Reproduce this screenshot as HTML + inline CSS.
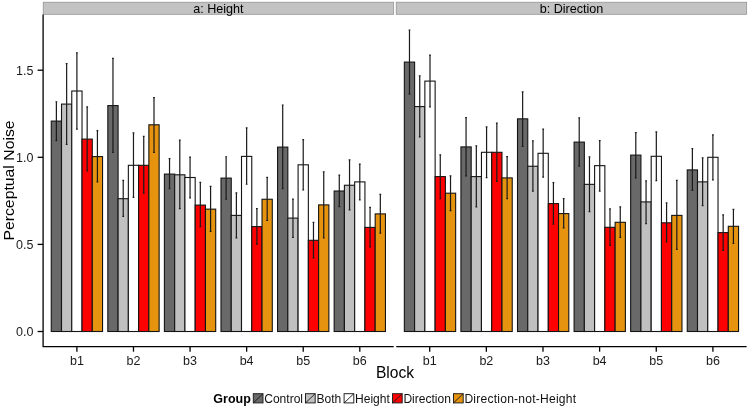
<!DOCTYPE html>
<html><head><meta charset="utf-8"><title>Perceptual Noise by Block</title>
<style>
html,body{margin:0;padding:0;background:#fff}
body{width:750px;height:409px;overflow:hidden}
svg{display:block;filter:blur(0.4px)}
.t{font-family:"Liberation Sans",Arial,Helvetica,sans-serif}
.bars rect{stroke:#141414;stroke-width:1.1}
.e{stroke:#1a1a1a;stroke-width:1.2;fill:none}
</style></head><body>
<svg width="750" height="409" viewBox="0 0 750 409">
<rect width="750" height="409" fill="#fff"/>
<rect x="43.2" y="2.2" width="350.5" height="12.1" fill="#c3c3c3" stroke="#8c8c8c" stroke-width="0.7"/>
<rect x="396.2" y="2.2" width="350.5" height="12.1" fill="#c3c3c3" stroke="#8c8c8c" stroke-width="0.7"/>
<text class="t" x="218.4" y="13" text-anchor="middle" font-size="12.6">a: Height</text>
<text class="t" x="571.5" y="13" text-anchor="middle" font-size="12.6">b: Direction</text>
<g class="bars">
<rect x="51.25" y="121.10" width="10.26" height="210.40" fill="#696969"/>
<rect x="61.51" y="104.10" width="10.26" height="227.40" fill="#c0c0c0"/>
<rect x="71.77" y="91.00" width="10.26" height="240.50" fill="#ffffff"/>
<rect x="82.03" y="139.10" width="10.26" height="192.40" fill="#ff0000"/>
<rect x="92.29" y="156.60" width="10.26" height="174.90" fill="#e6940f"/>
<path class="e" d="M56.38 101.75V140.60M55.48 101.75h1.8M55.48 140.60h1.8"/>
<path class="e" d="M66.64 63.70V144.40M65.74 63.70h1.8M65.74 144.40h1.8"/>
<path class="e" d="M76.90 52.90V129.20M76.00 52.90h1.8M76.00 129.20h1.8"/>
<path class="e" d="M87.16 106.90V171.00M86.26 106.90h1.8M86.26 171.00h1.8"/>
<path class="e" d="M97.42 130.60V181.80M96.52 130.60h1.8M96.52 181.80h1.8"/>
<rect x="107.83" y="105.60" width="10.26" height="225.90" fill="#696969"/>
<rect x="118.09" y="198.70" width="10.26" height="132.80" fill="#c0c0c0"/>
<rect x="128.35" y="165.30" width="10.26" height="166.20" fill="#ffffff"/>
<rect x="138.61" y="165.30" width="10.26" height="166.20" fill="#ff0000"/>
<rect x="148.87" y="124.80" width="10.26" height="206.70" fill="#e6940f"/>
<path class="e" d="M112.96 58.40V152.30M112.06 58.40h1.8M112.06 152.30h1.8"/>
<path class="e" d="M123.22 180.35V216.40M122.32 180.35h1.8M122.32 216.40h1.8"/>
<path class="e" d="M133.48 132.90V197.40M132.58 132.90h1.8M132.58 197.40h1.8"/>
<path class="e" d="M143.74 136.40V193.20M142.84 136.40h1.8M142.84 193.20h1.8"/>
<path class="e" d="M154.00 97.55V152.30M153.10 97.55h1.8M153.10 152.30h1.8"/>
<rect x="164.41" y="174.10" width="10.26" height="157.40" fill="#696969"/>
<rect x="174.67" y="174.80" width="10.26" height="156.70" fill="#c0c0c0"/>
<rect x="184.93" y="177.50" width="10.26" height="154.00" fill="#ffffff"/>
<rect x="195.19" y="205.10" width="10.26" height="126.40" fill="#ff0000"/>
<rect x="205.45" y="209.15" width="10.26" height="122.35" fill="#e6940f"/>
<path class="e" d="M169.54 158.60V188.70M168.64 158.60h1.8M168.64 188.70h1.8"/>
<path class="e" d="M179.80 140.10V208.60M178.90 140.10h1.8M178.90 208.60h1.8"/>
<path class="e" d="M190.06 157.10V197.90M189.16 157.10h1.8M189.16 197.90h1.8"/>
<path class="e" d="M200.32 182.45V226.60M199.42 182.45h1.8M199.42 226.60h1.8"/>
<path class="e" d="M210.58 186.35V231.40M209.68 186.35h1.8M209.68 231.40h1.8"/>
<rect x="220.99" y="178.10" width="10.26" height="153.40" fill="#696969"/>
<rect x="231.25" y="215.40" width="10.26" height="116.10" fill="#c0c0c0"/>
<rect x="241.51" y="156.40" width="10.26" height="175.10" fill="#ffffff"/>
<rect x="251.77" y="226.60" width="10.26" height="104.90" fill="#ff0000"/>
<rect x="262.03" y="199.25" width="10.26" height="132.25" fill="#e6940f"/>
<path class="e" d="M226.12 156.75V199.20M225.22 156.75h1.8M225.22 199.20h1.8"/>
<path class="e" d="M236.38 192.85V237.80M235.48 192.85h1.8M235.48 237.80h1.8"/>
<path class="e" d="M246.64 127.90V184.25M245.74 127.90h1.8M245.74 184.25h1.8"/>
<path class="e" d="M256.90 208.70V244.10M256.00 208.70h1.8M256.00 244.10h1.8"/>
<path class="e" d="M267.16 177.40V220.40M266.26 177.40h1.8M266.26 220.40h1.8"/>
<rect x="277.57" y="147.10" width="10.26" height="184.40" fill="#696969"/>
<rect x="287.83" y="218.10" width="10.26" height="113.40" fill="#c0c0c0"/>
<rect x="298.09" y="164.80" width="10.26" height="166.70" fill="#ffffff"/>
<rect x="308.35" y="240.30" width="10.26" height="91.20" fill="#ff0000"/>
<rect x="318.61" y="204.90" width="10.26" height="126.60" fill="#e6940f"/>
<path class="e" d="M282.70 105.00V188.60M281.80 105.00h1.8M281.80 188.60h1.8"/>
<path class="e" d="M292.96 199.10V237.30M292.06 199.10h1.8M292.06 237.30h1.8"/>
<path class="e" d="M303.22 139.70V189.90M302.32 139.70h1.8M302.32 189.90h1.8"/>
<path class="e" d="M313.48 222.40V257.80M312.58 222.40h1.8M312.58 257.80h1.8"/>
<path class="e" d="M323.74 171.90V237.80M322.84 171.90h1.8M322.84 237.80h1.8"/>
<rect x="334.15" y="191.00" width="10.26" height="140.50" fill="#696969"/>
<rect x="344.41" y="185.25" width="10.26" height="146.25" fill="#c0c0c0"/>
<rect x="354.67" y="181.90" width="10.26" height="149.60" fill="#ffffff"/>
<rect x="364.93" y="227.40" width="10.26" height="104.10" fill="#ff0000"/>
<rect x="375.19" y="213.90" width="10.26" height="117.60" fill="#e6940f"/>
<path class="e" d="M339.28 175.05V206.70M338.38 175.05h1.8M338.38 206.70h1.8"/>
<path class="e" d="M349.54 159.90V209.90M348.64 159.90h1.8M348.64 209.90h1.8"/>
<path class="e" d="M359.80 164.10V199.85M358.90 164.10h1.8M358.90 199.85h1.8"/>
<path class="e" d="M370.06 207.40V246.80M369.16 207.40h1.8M369.16 246.80h1.8"/>
<path class="e" d="M380.32 194.45V233.10M379.42 194.45h1.8M379.42 233.10h1.8"/>
<rect x="404.35" y="62.10" width="10.26" height="269.40" fill="#696969"/>
<rect x="414.61" y="106.60" width="10.26" height="224.90" fill="#c0c0c0"/>
<rect x="424.87" y="81.10" width="10.26" height="250.40" fill="#ffffff"/>
<rect x="435.13" y="176.60" width="10.26" height="154.90" fill="#ff0000"/>
<rect x="445.39" y="193.20" width="10.26" height="138.30" fill="#e6940f"/>
<path class="e" d="M409.48 30.00V94.10M408.58 30.00h1.8M408.58 94.10h1.8"/>
<path class="e" d="M419.74 75.90V136.90M418.84 75.90h1.8M418.84 136.90h1.8"/>
<path class="e" d="M430.00 55.20V106.90M429.10 55.20h1.8M429.10 106.90h1.8"/>
<path class="e" d="M440.26 154.80V198.70M439.36 154.80h1.8M439.36 198.70h1.8"/>
<path class="e" d="M450.52 175.85V210.60M449.62 175.85h1.8M449.62 210.60h1.8"/>
<rect x="460.93" y="146.90" width="10.26" height="184.60" fill="#696969"/>
<rect x="471.19" y="176.60" width="10.26" height="154.90" fill="#c0c0c0"/>
<rect x="481.45" y="152.30" width="10.26" height="179.20" fill="#ffffff"/>
<rect x="491.71" y="152.30" width="10.26" height="179.20" fill="#ff0000"/>
<rect x="501.97" y="177.90" width="10.26" height="153.60" fill="#e6940f"/>
<path class="e" d="M466.06 117.60V175.85M465.16 117.60h1.8M465.16 175.85h1.8"/>
<path class="e" d="M476.32 145.90V206.90M475.42 145.90h1.8M475.42 206.90h1.8"/>
<path class="e" d="M486.58 126.90V177.65M485.68 126.90h1.8M485.68 177.65h1.8"/>
<path class="e" d="M496.84 123.20V181.35M495.94 123.20h1.8M495.94 181.35h1.8"/>
<path class="e" d="M507.10 156.60V198.70M506.20 156.60h1.8M506.20 198.70h1.8"/>
<rect x="517.51" y="118.85" width="10.26" height="212.65" fill="#696969"/>
<rect x="527.77" y="166.25" width="10.26" height="165.25" fill="#c0c0c0"/>
<rect x="538.03" y="153.30" width="10.26" height="178.20" fill="#ffffff"/>
<rect x="548.29" y="203.60" width="10.26" height="127.90" fill="#ff0000"/>
<rect x="558.55" y="213.60" width="10.26" height="117.90" fill="#e6940f"/>
<path class="e" d="M522.64 91.90V146.40M521.74 91.90h1.8M521.74 146.40h1.8"/>
<path class="e" d="M532.90 140.90V191.20M532.00 140.90h1.8M532.00 191.20h1.8"/>
<path class="e" d="M543.16 129.20V177.15M542.26 129.20h1.8M542.26 177.15h1.8"/>
<path class="e" d="M553.42 182.60V224.10M552.52 182.60h1.8M552.52 224.10h1.8"/>
<path class="e" d="M563.68 198.70V227.80M562.78 198.70h1.8M562.78 227.80h1.8"/>
<rect x="574.09" y="142.10" width="10.26" height="189.40" fill="#696969"/>
<rect x="584.35" y="184.35" width="10.26" height="147.15" fill="#c0c0c0"/>
<rect x="594.61" y="165.65" width="10.26" height="165.85" fill="#ffffff"/>
<rect x="604.87" y="227.30" width="10.26" height="104.20" fill="#ff0000"/>
<rect x="615.13" y="222.30" width="10.26" height="109.20" fill="#e6940f"/>
<path class="e" d="M579.22 117.90V166.15M578.32 117.90h1.8M578.32 166.15h1.8"/>
<path class="e" d="M589.48 156.80V211.60M588.58 156.80h1.8M588.58 211.60h1.8"/>
<path class="e" d="M599.74 140.60V191.10M598.84 140.60h1.8M598.84 191.10h1.8"/>
<path class="e" d="M610.00 208.90V245.30M609.10 208.90h1.8M609.10 245.30h1.8"/>
<path class="e" d="M620.26 206.90V237.30M619.36 206.90h1.8M619.36 237.30h1.8"/>
<rect x="630.67" y="155.10" width="10.26" height="176.40" fill="#696969"/>
<rect x="640.93" y="201.90" width="10.26" height="129.60" fill="#c0c0c0"/>
<rect x="651.19" y="156.30" width="10.26" height="175.20" fill="#ffffff"/>
<rect x="661.45" y="222.80" width="10.26" height="108.70" fill="#ff0000"/>
<rect x="671.71" y="215.40" width="10.26" height="116.10" fill="#e6940f"/>
<path class="e" d="M635.80 132.60V177.90M634.90 132.60h1.8M634.90 177.90h1.8"/>
<path class="e" d="M646.06 180.85V223.60M645.16 180.85h1.8M645.16 223.60h1.8"/>
<path class="e" d="M656.32 131.90V180.60M655.42 131.90h1.8M655.42 180.60h1.8"/>
<path class="e" d="M666.58 202.90V241.80M665.68 202.90h1.8M665.68 241.80h1.8"/>
<path class="e" d="M676.84 180.45V249.30M675.94 180.45h1.8M675.94 249.30h1.8"/>
<rect x="687.25" y="169.90" width="10.26" height="161.60" fill="#696969"/>
<rect x="697.51" y="181.85" width="10.26" height="149.65" fill="#c0c0c0"/>
<rect x="707.77" y="157.30" width="10.26" height="174.20" fill="#ffffff"/>
<rect x="718.03" y="232.60" width="10.26" height="98.90" fill="#ff0000"/>
<rect x="728.29" y="226.30" width="10.26" height="105.20" fill="#e6940f"/>
<path class="e" d="M692.38 148.60V190.45M691.48 148.60h1.8M691.48 190.45h1.8"/>
<path class="e" d="M702.64 157.80V205.60M701.74 157.80h1.8M701.74 205.60h1.8"/>
<path class="e" d="M712.90 134.90V179.90M712.00 134.90h1.8M712.00 179.90h1.8"/>
<path class="e" d="M723.16 214.90V250.30M722.26 214.90h1.8M722.26 250.30h1.8"/>
<path class="e" d="M733.42 209.40V243.50M732.52 209.40h1.8M732.52 243.50h1.8"/>
</g>
<g stroke="#000" stroke-width="1.3" fill="none">
<path d="M43.1 14.4V346.7H393.7"/>
<path d="M396.2 346.7H746.6"/>
<path d="M37.6 331.5H43.1"/>
<path d="M37.6 244.4H43.1"/>
<path d="M37.6 157.3H43.1"/>
<path d="M37.6 70.2H43.1"/>
<path d="M76.90 346.7V351.7"/>
<path d="M133.48 346.7V351.7"/>
<path d="M190.06 346.7V351.7"/>
<path d="M246.64 346.7V351.7"/>
<path d="M303.22 346.7V351.7"/>
<path d="M359.80 346.7V351.7"/>
<path d="M429.70 346.7V351.7"/>
<path d="M486.34 346.7V351.7"/>
<path d="M542.98 346.7V351.7"/>
<path d="M599.62 346.7V351.7"/>
<path d="M656.26 346.7V351.7"/>
<path d="M712.90 346.7V351.7"/>
</g>
<text class="t" x="33.4" y="335.9" text-anchor="end" font-size="12.5" fill="#1a1a1a">0.0</text>
<text class="t" x="33.4" y="248.8" text-anchor="end" font-size="12.5" fill="#1a1a1a">0.5</text>
<text class="t" x="33.4" y="161.7" text-anchor="end" font-size="12.5" fill="#1a1a1a">1.0</text>
<text class="t" x="33.4" y="74.6" text-anchor="end" font-size="12.5" fill="#1a1a1a">1.5</text>
<text class="t" x="76.90" y="364.9" text-anchor="middle" font-size="12.5" fill="#1a1a1a">b1</text>
<text class="t" x="133.48" y="364.9" text-anchor="middle" font-size="12.5" fill="#1a1a1a">b2</text>
<text class="t" x="190.06" y="364.9" text-anchor="middle" font-size="12.5" fill="#1a1a1a">b3</text>
<text class="t" x="246.64" y="364.9" text-anchor="middle" font-size="12.5" fill="#1a1a1a">b4</text>
<text class="t" x="303.22" y="364.9" text-anchor="middle" font-size="12.5" fill="#1a1a1a">b5</text>
<text class="t" x="359.80" y="364.9" text-anchor="middle" font-size="12.5" fill="#1a1a1a">b6</text>
<text class="t" x="429.70" y="364.9" text-anchor="middle" font-size="12.5" fill="#1a1a1a">b1</text>
<text class="t" x="486.34" y="364.9" text-anchor="middle" font-size="12.5" fill="#1a1a1a">b2</text>
<text class="t" x="542.98" y="364.9" text-anchor="middle" font-size="12.5" fill="#1a1a1a">b3</text>
<text class="t" x="599.62" y="364.9" text-anchor="middle" font-size="12.5" fill="#1a1a1a">b4</text>
<text class="t" x="656.26" y="364.9" text-anchor="middle" font-size="12.5" fill="#1a1a1a">b5</text>
<text class="t" x="712.90" y="364.9" text-anchor="middle" font-size="12.5" fill="#1a1a1a">b6</text>
<text class="t" x="395" y="378.4" text-anchor="middle" font-size="15.6">Block</text>
<text class="t" transform="translate(13.5 180.5) rotate(-90) scale(1 0.96)" text-anchor="middle" font-size="15.8">Perceptual Noise</text>
<text class="t" x="213.3" y="402.5" font-size="12.5" font-weight="bold">Group</text>
<rect x="253.3" y="393.7" width="9.7" height="9.2" fill="#696969" stroke="#1c1c1c" stroke-width="0.95"/>
<path d="M253.3 402.9L263.0 393.7" stroke="#1c1c1c" stroke-width="0.95"/>
<text class="t" x="264.2" y="402.5" font-size="12.05" fill="#111">Control</text>
<rect x="305.5" y="393.7" width="9.7" height="9.2" fill="#c0c0c0" stroke="#1c1c1c" stroke-width="0.95"/>
<path d="M305.5 402.9L315.2 393.7" stroke="#1c1c1c" stroke-width="0.95"/>
<text class="t" x="316.4" y="402.5" font-size="12.05" fill="#111">Both</text>
<rect x="344.1" y="393.7" width="9.7" height="9.2" fill="#ffffff" stroke="#1c1c1c" stroke-width="0.95"/>
<path d="M344.1 402.9L353.8 393.7" stroke="#1c1c1c" stroke-width="0.95"/>
<text class="t" x="355.0" y="402.5" font-size="12.05" fill="#111">Height</text>
<rect x="392.5" y="393.7" width="9.7" height="9.2" fill="#ff0000" stroke="#1c1c1c" stroke-width="0.95"/>
<path d="M392.5 402.9L402.2 393.7" stroke="#1c1c1c" stroke-width="0.95"/>
<text class="t" x="403.4" y="402.5" font-size="12.05" fill="#111">Direction</text>
<rect x="453.5" y="393.7" width="9.7" height="9.2" fill="#e6940f" stroke="#1c1c1c" stroke-width="0.95"/>
<path d="M453.5 402.9L463.2 393.7" stroke="#1c1c1c" stroke-width="0.95"/>
<text class="t" x="464.4" y="402.5" font-size="12.05" fill="#111" letter-spacing="0.24">Direction-not-Height</text>
</svg>
</body></html>
